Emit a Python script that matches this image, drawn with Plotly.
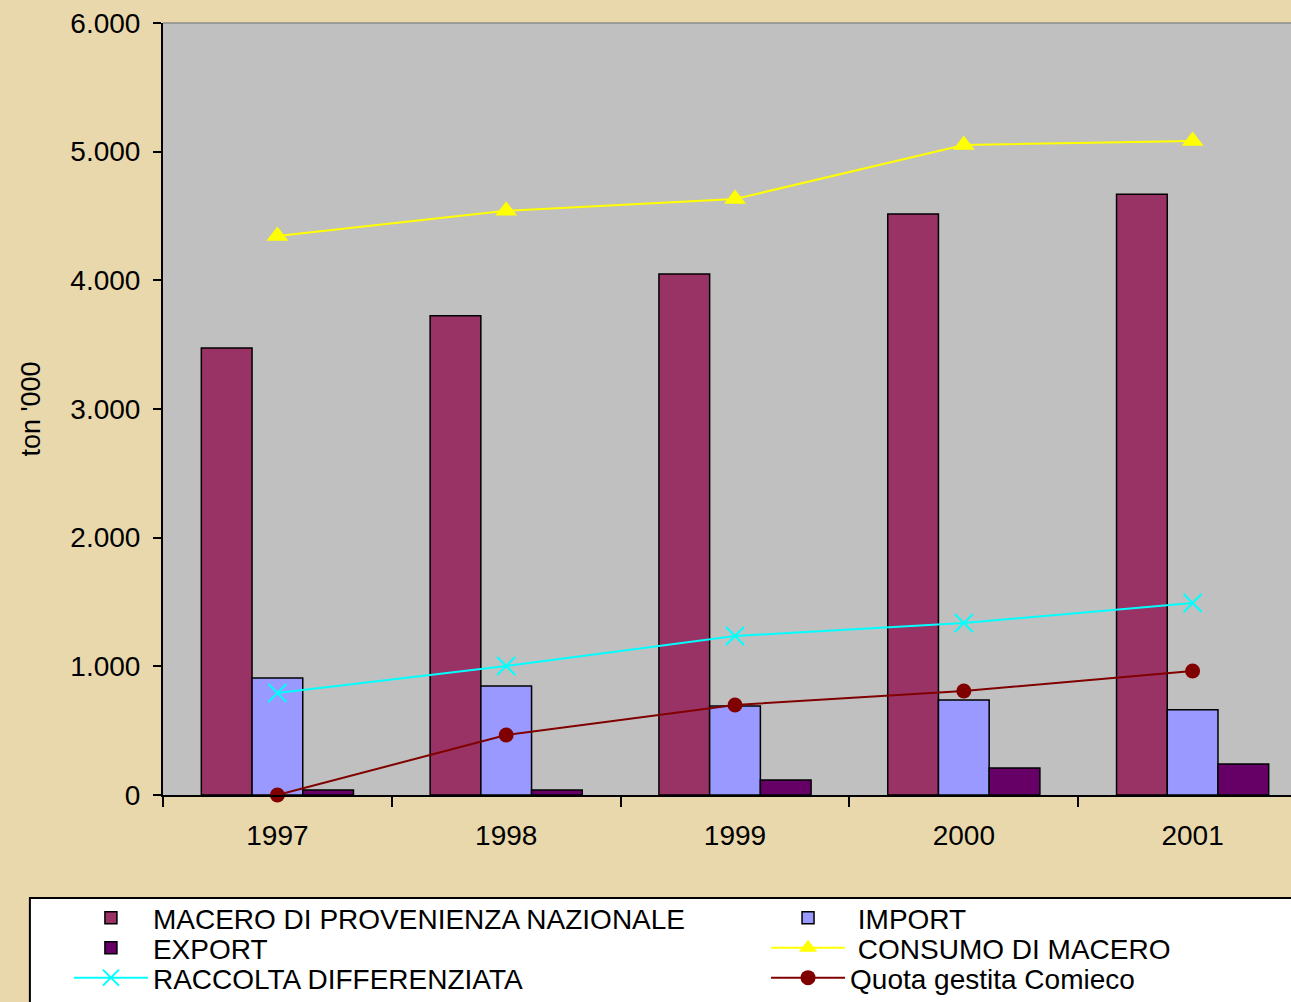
import plotly.graph_objects as go

years = ["1997", "1998", "1999", "2000", "2001"]

# ton '000
macero_nazionale = [3475, 3725, 4050, 4515, 4670]
import_vals = [910, 848, 692, 738, 662]
export_vals = [39, 39, 117, 210, 241]
consumo_macero = [4345, 4540, 4632, 5052, 5083]
raccolta_diff = [793, 1003, 1236, 1337, 1492]
quota_comieco = [0, 466, 700, 808, 964]

FONT = "Liberation Sans, Arial, sans-serif"

fig = go.Figure()

fig.add_trace(
    go.Bar(
        x=years,
        y=macero_nazionale,
        name="MACERO DI PROVENIENZA NAZIONALE",
        legend="legend",
        marker=dict(color="#993366", line=dict(color="black", width=1.5)),
    )
)
fig.add_trace(
    go.Bar(
        x=years,
        y=import_vals,
        name="\u00a0IMPORT",
        legend="legend2",
        marker=dict(color="#9999FF", line=dict(color="black", width=1.5)),
    )
)
fig.add_trace(
    go.Bar(
        x=years,
        y=export_vals,
        name="EXPORT",
        legend="legend3",
        marker=dict(color="#660066", line=dict(color="black", width=1.5)),
    )
)
fig.add_trace(
    go.Scatter(
        x=years,
        y=consumo_macero,
        name="\u00a0CONSUMO DI MACERO",
        legend="legend4",
        mode="lines+markers",
        line=dict(color="#FFFF00", width=2),
        marker=dict(symbol="triangle-up", size=19, color="#FFFF00"),
    )
)
fig.add_trace(
    go.Scatter(
        x=years,
        y=raccolta_diff,
        name="RACCOLTA DIFFERENZIATA",
        legend="legend5",
        mode="lines+markers",
        line=dict(color="#00FFFF", width=2),
        marker=dict(symbol="x-thin", size=18, line=dict(color="#00FFFF", width=2)),
    )
)
fig.add_trace(
    go.Scatter(
        x=years,
        y=quota_comieco,
        name="Quota gestita Comieco",
        legend="legend6",
        mode="lines+markers",
        line=dict(color="#800000", width=2),
        marker=dict(symbol="circle", size=15, color="#800000"),
        cliponaxis=False,
    )
)

# legend frame reaching past the right and bottom edges
fig.add_shape(
    type="rect",
    xref="paper",
    yref="paper",
    x0=-0.118,
    x1=1.01,
    y0=-0.29,
    y1=-0.1334,
    fillcolor="white",
    line=dict(color="black", width=2),
    layer="below",
)
# thin grey border on top of the plot area
fig.add_shape(
    type="line",
    xref="paper",
    yref="paper",
    x0=0,
    x1=1,
    y0=1,
    y1=1,
    line=dict(color="#8C8C8C", width=1.5),
)


def legend_box(x, y):
    return dict(
        x=x,
        xanchor="left",
        y=y,
        yanchor="middle",
        bgcolor="rgba(0,0,0,0)",
        font=dict(family=FONT, size=28, color="black"),
        itemwidth=74,
    )


col_left, col_right = -0.0834, 0.5346
rows = [-0.1593, -0.1982, -0.2370]

fig.update_layout(
    width=1291,
    height=1002,
    margin=dict(l=163, r=0, t=23, b=207, autoexpand=False),
    paper_bgcolor="#EAD8AD",
    plot_bgcolor="#C0C0C0",
    separators=",.",
    barmode="group",
    bargap=0.335,
    bargroupgap=0,
    font=dict(family=FONT, size=28, color="black"),
    showlegend=True,
    legend=legend_box(col_left, rows[0]),
    legend2=legend_box(col_right, rows[0]),
    legend3=legend_box(col_left, rows[1]),
    legend4=legend_box(col_right, rows[1]),
    legend5=legend_box(col_left, rows[2]),
    legend6=legend_box(col_right, rows[2]),
    xaxis=dict(
        type="category",
        range=[-0.5, 4.43],
        showline=True,
        linecolor="black",
        linewidth=2,
        ticks="outside",
        tickson="boundaries",
        ticklen=10,
        tickwidth=2,
        tickcolor="black",
        showgrid=False,
        tickfont=dict(size=28),
        ticklabelstandoff=14,
    ),
    yaxis=dict(
        range=[0, 6000],
        dtick=1000,
        tickformat=",d",
        showline=True,
        linecolor="black",
        linewidth=2,
        ticks="outside",
        ticklen=8,
        tickwidth=2,
        tickcolor="black",
        showgrid=False,
        zeroline=False,
        tickfont=dict(size=28),
        ticklabelstandoff=7,
        title=dict(text="ton '000", font=dict(size=27), standoff=22),
    ),
)

fig.write_html(
    "out.html",
    config={"displayModeBar": False},
    post_script="document.body.style.margin='0';",
)
